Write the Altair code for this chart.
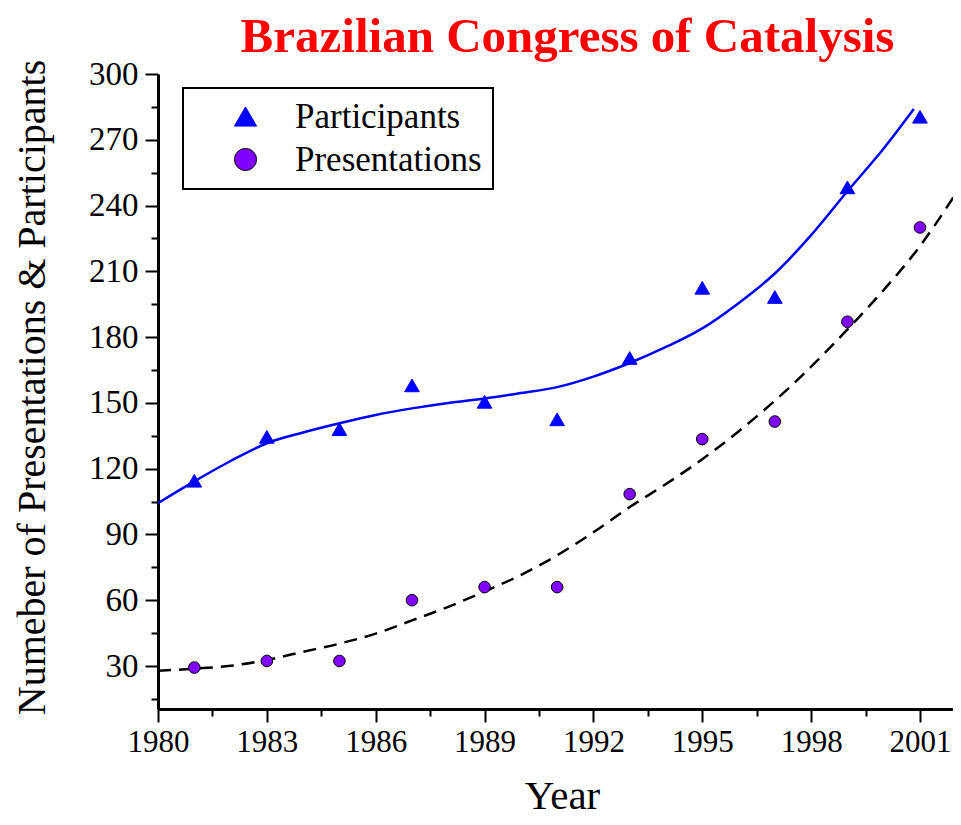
import altair as alt
import pandas as pd

# ---- data ----
years = [1981, 1983, 1985, 1987, 1989, 1991, 1993, 1995, 1997, 1999, 2001]
participants = [114.5, 134.5, 138, 158, 150.5, 142.5, 170.5, 202.5, 198.3, 248.3, 280.5]
presentations = [29.3, 32.3, 32.3, 60, 66, 66, 108.4, 133.5, 141.5, 187, 230]

fit_part_years = [1980, 1981, 1982, 1983, 1984, 1985, 1986, 1987, 1988, 1989, 1990,
                  1991, 1992, 1993, 1994, 1995, 1996, 1997, 1998, 1999, 2000, 2000.83]
fit_part = [104.3, 114.2, 123.5, 131.6, 136.5, 140.7, 144.5, 147.5, 150, 152, 154.5,
            157.2, 162, 168.2, 175.5, 184, 195.5, 209, 226.5, 246.5, 266, 284]

fit_pres_years = [1980, 1981, 1982, 1983, 1984, 1985, 1986, 1987, 1988, 1989, 1990, 1991,
                  1992, 1993, 1994, 1995, 1996, 1997, 1998, 1999, 2000, 2001, 2001.93]
fit_pres = [27.8, 28.8, 30.1, 32.8, 36.5, 40.2, 44.8, 50.8, 57, 64, 71.5, 80.5,
            91, 102.5, 113, 124.3, 137, 151, 166.5, 183.5, 201.5, 221.5, 244]

series_names = ["Participants", "Presentations"]
x_major_ticks = [1980, 1983, 1986, 1989, 1992, 1995, 1998, 2001]
x_minor_ticks = [1981.5, 1984.5, 1987.5, 1990.5, 1993.5, 1996.5, 1999.5]
y_major_ticks = [30, 60, 90, 120, 150, 180, 210, 240, 270, 300]
y_minor_ticks = [15, 45, 75, 105, 135, 165, 195, 225, 255, 285]

n = len(years)
points = pd.DataFrame({
    "year": years * 2,
    "value": participants + presentations,
    "series": [series_names[0]] * n + [series_names[1]] * n,
})
part_fit_df = pd.DataFrame({"year": fit_part_years, "value": fit_part})
pres_fit_df = pd.DataFrame({"year": fit_pres_years, "value": fit_pres})

FONT = "Liberation Serif"
xscale = alt.Scale(domain=[1980, 2001.91], nice=False, zero=False)
yscale = alt.Scale(domain=[10.4, 300], nice=False, zero=False)

x_major = alt.Axis(
    orient="bottom", values=x_major_ticks, format="d", grid=False,
    tickSize=13, tickWidth=2, tickColor="black",
    domainWidth=3, domainColor="black",
    labelFont=FONT, labelFontSize=31, labelColor="black", labelPadding=5,
    labelFlush=False, labelOverlap=False,
    title="Year", titleFont=FONT, titleFontSize=41, titleFontWeight="normal",
    titleColor="black", titleX=404, titleY=99, titleBaseline="alphabetic",
)
y_major = alt.Axis(
    orient="left", values=y_major_ticks, format="d", grid=False,
    tickSize=13, tickWidth=2, tickColor="black",
    domainWidth=3, domainColor="black",
    labelFont=FONT, labelFontSize=33, labelColor="black", labelPadding=7,
    labelFlush=False, labelOverlap=False,
    title="Numeber of Presentations & Participants", titleFont=FONT,
    titleFontSize=40, titleFontWeight="normal", titleColor="black",
    titleAngle=270, titleX=-114, titleY=313, titleBaseline="alphabetic",
    titleAlign="center",
)
x_minor = alt.Axis(
    orient="bottom", values=x_minor_ticks, grid=False, domain=False,
    tickSize=7, tickWidth=2, tickColor="black", labels=False, title=None,
)
y_minor = alt.Axis(
    orient="left", values=y_minor_ticks, grid=False, domain=False,
    tickSize=7, tickWidth=2, tickColor="black", labels=False, title=None,
)

part_line = alt.Chart(part_fit_df).mark_line(
    color="#0000ff", strokeWidth=2.5, interpolate="monotone", clip=True
).encode(
    x=alt.X("year:Q", scale=xscale, axis=x_minor),
    y=alt.Y("value:Q", scale=yscale, axis=y_minor),
)

pres_line = alt.Chart(pres_fit_df).mark_line(
    color="black", strokeWidth=2.5, strokeDash=[13, 8], interpolate="monotone", clip=True
).encode(
    x=alt.X("year:Q", scale=xscale, axis=None),
    y=alt.Y("value:Q", scale=yscale, axis=None),
)

legend = alt.Legend(
    title=None, orient="none", legendX=25, legendY=14, direction="vertical",
    labelFont=FONT, labelFontSize=35, labelColor="black", labelLimit=400,
    labelOffset=32, symbolOffset=34, padding=11, rowPadding=7,
    strokeColor="black", fillColor="white", symbolStrokeWidth=1, symbolSize=490,
)

color_enc = alt.Color("series:N", scale=alt.Scale(domain=series_names, range=["#0000ff", "#8000ff"]), legend=legend)
shape_enc = alt.Shape("series:N", scale=alt.Scale(domain=series_names, range=["triangle-up", "circle"]))
stroke_enc = alt.Stroke("series:N", scale=alt.Scale(domain=series_names, range=["#0000ff", "#000000"]))

tri = alt.Chart(points).transform_filter(
    alt.datum.series == series_names[0]
).mark_point(filled=True, opacity=1, strokeWidth=1, size=215).encode(
    x=alt.X("year:Q", scale=xscale, axis=x_major),
    y=alt.Y("value:Q", scale=yscale, axis=y_major),
    color=color_enc, shape=shape_enc, stroke=stroke_enc,
)
circ = alt.Chart(points).transform_filter(
    alt.datum.series == series_names[1]
).mark_point(filled=True, opacity=1, strokeWidth=1, size=135).encode(
    x=alt.X("year:Q", scale=xscale, axis=None),
    y=alt.Y("value:Q", scale=yscale, axis=None),
    color=color_enc, shape=shape_enc, stroke=stroke_enc,
)

chart = alt.layer(part_line, pres_line, tri, circ).resolve_axis(
    x="independent", y="independent"
).properties(
    width=795, height=635,
    autosize=alt.AutoSizeParams(type="none"),
    padding={"left": 150, "top": 66, "right": 0, "bottom": 108},
    title=alt.TitleParams(
        "Brazilian Congress of Catalysis", font=FONT, fontSize=49, fontWeight="bold",
        color="red", anchor="middle", frame="group", offset=7, dx=12, dy=50,
        baseline="alphabetic",
    ),
).configure_view(stroke=None).configure_legend(strokeWidth=2)

chart.save("out.html", embed_options={"renderer": "svg", "actions": False})
